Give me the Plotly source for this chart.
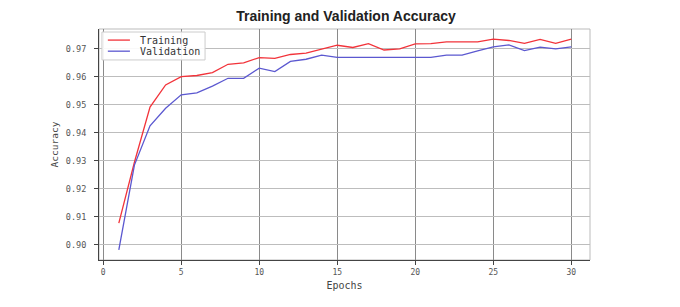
import plotly.graph_objects as go

epochs = list(range(1, 31))
training_acc = [0.9078, 0.9295, 0.9492, 0.9571, 0.9601, 0.9605, 0.9615, 0.9645, 0.9650, 0.9669,
                0.9666, 0.9680, 0.9685, 0.9699, 0.9713, 0.9705, 0.9719, 0.9696, 0.9700, 0.9718,
                0.9719, 0.9725, 0.9725, 0.9725, 0.9735, 0.9730, 0.9720, 0.9734, 0.9720, 0.9735]
validation_acc = [0.8982, 0.9285, 0.9425, 0.9488, 0.9536, 0.9543, 0.9567, 0.9595, 0.9595, 0.9631,
                  0.9619, 0.9655, 0.9663, 0.9678, 0.9670, 0.9670, 0.9670, 0.9670, 0.9670, 0.9670,
                  0.9670, 0.9678, 0.9678, 0.9693, 0.9707, 0.9714, 0.9694, 0.9706, 0.9700, 0.9707]
series_names = ["Training", "Validation"]
series_colors = ["#f2333a", "#5b58d0"]
x_ticks = [0, 5, 10, 15, 20, 25, 30]
y_ticks = [0.90, 0.91, 0.92, 0.93, 0.94, 0.95, 0.96, 0.97]

mono = "DejaVu Sans Mono"

fig = go.Figure()
for name, ys, col in zip(series_names, [training_acc, validation_acc], series_colors):
    fig.add_trace(go.Scatter(x=epochs, y=ys, mode="lines", name=name,
                             line=dict(color=col, width=1.3)))

fig.update_layout(
    width=672, height=299,
    margin=dict(l=91, r=90, t=21, b=47, autoexpand=False),
    paper_bgcolor="white", plot_bgcolor="white",
    title=dict(text="<b>Training and Validation Accuracy</b>", x=0.503, xanchor="center",
               y=0.973, yanchor="middle", automargin=False,
               font=dict(family="Liberation Sans, Arial", size=14, color="#222")),
    showlegend=False,
)
fig.update_xaxes(
    range=[-0.27, 31.2], tickvals=x_ticks, ticktext=[str(v) for v in x_ticks],
    showgrid=True, gridcolor="#8a8a8a", gridwidth=1.2,
    showline=True, linecolor="#444", linewidth=1, mirror=False,
    ticks="outside", ticklen=4, tickcolor="#444", automargin=False,
    tickfont=dict(family=mono, size=8, color="#555"),
    title=dict(text="Epochs", font=dict(family=mono, size=10, color="#444"), standoff=6),
    zeroline=False,
)
fig.update_yaxes(
    range=[0.8946, 0.9771], tickvals=y_ticks, ticktext=[f"{v:.2f}" for v in y_ticks],
    showgrid=True, gridcolor="#bdbdbd", gridwidth=1.2,
    showline=True, linecolor="#444", linewidth=1, mirror=False,
    ticks="outside", ticklen=4, tickcolor="#444", automargin=False,
    ticklabelstandoff=6,
    tickfont=dict(family=mono, size=8.5, color="#555"),
    title=dict(text="Accuracy", font=dict(family=mono, size=9.5, color="#444"), standoff=5),
    zeroline=False,
)
# light frame on top/right
fig.add_shape(type="rect", xref="paper", yref="paper", x0=0, y0=0, x1=1, y1=1,
              line=dict(color="#bbbbbb", width=1), layer="below")

# compact legend box drawn manually
fig.add_shape(type="rect", xref="paper", yref="paper", x0=0.006, x1=0.216, y0=0.866, y1=0.987,
              line=dict(color="#cccccc", width=1), fillcolor="rgba(255,255,255,0.9)")
for i, (name, col) in enumerate(zip(series_names, series_colors)):
    yy = 0.952 - i * 0.048
    fig.add_shape(type="line", xref="paper", yref="paper", x0=0.018, x1=0.063, y0=yy, y1=yy,
                  line=dict(color=col, width=1.3))
    fig.add_annotation(xref="paper", yref="paper", x=0.0794, y=yy, text=name, showarrow=False,
                       xanchor="left", yanchor="middle",
                       font=dict(family=mono, size=10, color="#333"))

fig.write_html("out.html")
